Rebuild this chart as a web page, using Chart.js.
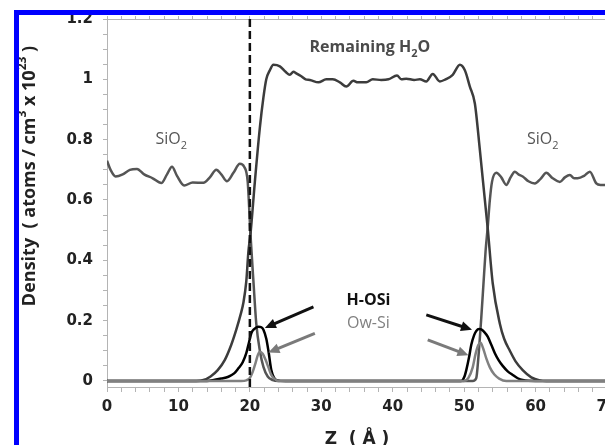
<!DOCTYPE html>
<html>
<head>
<meta charset="utf-8">
<script src="https://cdn.jsdelivr.net/npm/chart.js@4.4.1/dist/chart.umd.min.js"></script>
<style>
  html, body { margin: 0; padding: 0; background: #fff; overflow: hidden; }
  body { width: 605px; height: 445px; position: relative; }
  #wrap { position: absolute; left: 0; top: 0; width: 640px; height: 460px; }
  #frame { position: absolute; left: 14px; top: 10px; width: 700px; height: 500px;
           border-left: 5px solid #0000ff; border-top: 5px solid #0000ff; pointer-events: none; }
</style>
</head>
<body>
<div id="wrap"><canvas id="densityChart" width="640" height="460"></canvas></div>
<div id="frame"></div>
<script>
// SiO2 slab density (both walls)
const sio2Z = [0, 0.5, 1.2, 2.2, 3.2, 4.2, 5.2, 6.4, 7.6, 8.4, 9.1, 9.8, 10.8, 12.0, 13.5, 14.4, 15.3, 16.0, 16.8, 17.7, 18.6, 19.2, 19.7, 20.1, 20.5, 20.9, 21.4, 21.9, 22.5, 23.2, 24,
               50, 51.2, 51.7, 52.0, 52.4, 52.7, 53.0, 53.3, 53.6, 53.9, 54.5, 55.2, 55.9, 56.5, 57.1, 57.6, 58.2, 59.0, 59.9, 60.7, 61.5, 62.4, 63.4, 64.1, 64.8, 65.4, 65.9, 66.8, 67.6, 68.5, 69.1, 70];
const sio2 = [0.73, 0.70, 0.678, 0.685, 0.70, 0.703, 0.685, 0.672, 0.656, 0.685, 0.71, 0.68, 0.648, 0.658, 0.657, 0.675, 0.70, 0.685, 0.662, 0.69, 0.72, 0.71, 0.66, 0.48, 0.33, 0.19, 0.10, 0.047, 0.015, 0.003, 0,
              0, 0, 0.01, 0.08, 0.21, 0.32, 0.43, 0.51, 0.60, 0.66, 0.69, 0.675, 0.65, 0.675, 0.694, 0.685, 0.678, 0.662, 0.655, 0.67, 0.69, 0.672, 0.66, 0.675, 0.683, 0.672, 0.672, 0.68, 0.694, 0.655, 0.65, 0.65];

// remaining water
const waterZ = [0, 10, 12.5, 13.5, 14.5, 15.5, 16.5, 17.4, 18.1, 18.7, 19.1, 19.5, 19.8, 20.1, 20.7, 21.4, 21.9, 22.3, 22.8, 23.3, 24.2, 25.0, 25.6, 26.1, 26.5, 27.2, 27.8, 28.4, 29.6, 30.7, 31.6, 32.6, 33.5, 34.5, 35.1, 36.3, 37.2, 38.4, 39.4, 40.6, 41.2, 41.9, 43.0, 43.8, 44.7, 45.6, 46.6, 47.4, 48.4, 49.4, 50.1, 50.8, 51.5, 52.2, 52.9, 53.3, 54.0, 55.0, 55.6, 56.4, 57.2, 58.2, 59.4, 60.6, 61.5, 70];
const water = [0, 0, 0, 0.003, 0.015, 0.036, 0.07, 0.12, 0.17, 0.22, 0.26, 0.33, 0.43, 0.49, 0.66, 0.84, 0.94, 1.0, 1.03, 1.048, 1.043, 1.025, 1.015, 1.025, 1.02, 1.01, 1.0, 0.998, 0.99, 1.0, 1.0, 0.99, 0.976, 0.995, 0.99, 0.99, 1.0, 0.998, 1.0, 1.013, 1.0, 1.002, 0.998, 1.0, 0.993, 1.018, 0.993, 1.0, 1.015, 1.048, 1.03, 0.976, 0.92, 0.766, 0.60, 0.506, 0.324, 0.19, 0.14, 0.10, 0.065, 0.036, 0.012, 0.002, 0, 0];

// H-OSi
const hosiZ = [0, 14, 15.1, 16.0, 17.0, 17.8, 18.4, 19.0, 19.5, 19.9, 20.2, 20.6, 21.2, 21.6, 21.9, 22.3, 22.6, 23.0, 23.4, 23.8, 25,
               48, 49.6, 50.0, 50.3, 50.7, 51.0, 51.4, 51.7, 52.1, 52.4, 52.8, 53.3, 53.8, 54.3, 54.8, 55.4, 56.1, 56.8, 57.5, 58.2, 60, 70];
const hosi = [0, 0, 0.004, 0.008, 0.014, 0.025, 0.042, 0.062, 0.092, 0.13, 0.158, 0.172, 0.18, 0.178, 0.17, 0.14, 0.10, 0.036, 0.01, 0.002, 0,
              0, 0, 0.012, 0.036, 0.08, 0.12, 0.152, 0.166, 0.172, 0.171, 0.163, 0.147, 0.12, 0.092, 0.07, 0.05, 0.032, 0.02, 0.009, 0.003, 0, 0];

// Ow-Si
const owsiZ = [0, 18.8, 19.5, 20.0, 20.4, 20.8, 21.1, 21.4, 21.8, 22.2, 22.6, 23.0, 23.4, 24,
               50.0, 50.6, 51.2, 51.6, 52.0, 52.3, 52.7, 53.1, 53.6, 54.2, 54.9, 55.9, 70];
const owsi = [0, 0, 0.002, 0.01, 0.03, 0.06, 0.085, 0.097, 0.09, 0.07, 0.045, 0.02, 0.008, 0,
              0, 0.01, 0.045, 0.09, 0.12, 0.127, 0.105, 0.075, 0.045, 0.022, 0.008, 0, 0];

const xMajorTicks = [0, 10, 20, 30, 40, 50, 60, 70];
const xTickLabels = ['0', '10', '20', '30', '40', '50', '60', '70'];
const yMajorTicks = [0, 0.2, 0.4, 0.6, 0.8, 1, 1.2];
const yTickLabels = ['0', '0.2', '0.4', '0.6', '0.8', '1', '1.2'];
const interfaceZ = 20;

// minor tick positions
const xMinor = [];
for (let i = 0; i <= 35; i++) xMinor.push(i * 2);
const yMinor = [];
for (let i = 0; i <= 24; i++) yMinor.push(+(i * 0.05).toFixed(2));

const pts = (zs, vs) => zs.map((z, i) => ({ x: z, y: vs[i] }));

// text labels and arrows, placed in data units
const notes = [
  { pre: 'Remaining H', sub: '2', post: 'O', z: 36.8, y: 1.105, size: 16, weight: 'bold', color: '#4a4a4a' },
  { pre: 'SiO', sub: '2', post: '', z: 9.0, y: 0.80, size: 16, weight: 'normal', color: '#555' },
  { pre: 'SiO', sub: '2', post: '', z: 61.0, y: 0.80, size: 16, weight: 'normal', color: '#555' },
  { pre: 'H-OSi', sub: '', post: '', z: 36.6, y: 0.268, size: 16, weight: 'bold', color: '#111' },
  { pre: 'Ow-Si', sub: '', post: '', z: 36.6, y: 0.19, size: 16, weight: 'normal', color: '#808080' }
];
const arrows = [
  { from: [28.9, 0.246], to: [22.1, 0.176], color: '#111' },
  { from: [29.1, 0.158], to: [22.6, 0.094], color: '#7a7a7a' },
  { from: [44.7, 0.219], to: [51.1, 0.17], color: '#111' },
  { from: [44.9, 0.136], to: [50.6, 0.085], color: '#7a7a7a' }
];

function drawParts(ctx, parts, size, weight, color) {
  // parts: [text, shift] ; shift 1 = superscript, -1 = subscript
  const family = '"Open Sans", sans-serif';
  let total = 0;
  parts.forEach(p => {
    ctx.font = weight + ' ' + (p[1] ? Math.round(size * 0.68) : size) + 'px ' + family;
    total += ctx.measureText(p[0]).width;
  });
  let x = -total / 2;
  ctx.fillStyle = color;
  ctx.textAlign = 'left';
  ctx.textBaseline = 'middle';
  parts.forEach(p => {
    ctx.font = weight + ' ' + (p[1] ? Math.round(size * 0.68) : size) + 'px ' + family;
    const dy = p[1] === 1 ? -size * 0.42 : (p[1] === -1 ? size * 0.38 : 0);
    ctx.fillText(p[0], x, dy);
    x += ctx.measureText(p[0]).width;
  });
}

const decorPlugin = {
  id: 'decor',
  afterDatasetsDraw(chart) {
    const { ctx, chartArea, scales: { x, y } } = chart;
    ctx.save();

    // interface marker
    const xi = x.getPixelForValue(interfaceZ);
    ctx.strokeStyle = '#111';
    ctx.lineWidth = 2.5;
    ctx.setLineDash([8, 4]);
    ctx.beginPath();
    ctx.moveTo(xi, chartArea.top);
    ctx.lineTo(xi, chartArea.bottom);
    ctx.stroke();
    ctx.setLineDash([]);

    // arrows
    arrows.forEach(a => {
      const x0 = x.getPixelForValue(a.from[0]), y0 = y.getPixelForValue(a.from[1]);
      const x1 = x.getPixelForValue(a.to[0]), y1 = y.getPixelForValue(a.to[1]);
      const ang = Math.atan2(y1 - y0, x1 - x0);
      const len = 11, half = 5;
      ctx.strokeStyle = a.color;
      ctx.fillStyle = a.color;
      ctx.lineWidth = 3;
      ctx.beginPath();
      ctx.moveTo(x0, y0);
      ctx.lineTo(x1 - Math.cos(ang) * len * 0.8, y1 - Math.sin(ang) * len * 0.8);
      ctx.stroke();
      ctx.beginPath();
      ctx.moveTo(x1, y1);
      ctx.lineTo(x1 - Math.cos(ang) * len + Math.sin(ang) * half, y1 - Math.sin(ang) * len - Math.cos(ang) * half);
      ctx.lineTo(x1 - Math.cos(ang) * len - Math.sin(ang) * half, y1 - Math.sin(ang) * len + Math.cos(ang) * half);
      ctx.closePath();
      ctx.fill();
    });

    // labels
    notes.forEach(n => {
      ctx.save();
      ctx.translate(x.getPixelForValue(n.z), y.getPixelForValue(n.y));
      const parts = [[n.pre, 0]];
      if (n.sub) parts.push([n.sub, -1]);
      if (n.post) parts.push([n.post, 0]);
      drawParts(ctx, parts, n.size, n.weight, n.color);
      ctx.restore();
    });

    // y axis title with superscripts
    ctx.save();
    ctx.translate(30, 176);
    ctx.rotate(-Math.PI / 2);
    drawParts(ctx, [['Density  ( atoms / cm', 0], ['3', 1], [' x 10', 0], ['23', 1], [' )', 0]], 18, 'bold', '#222');
    ctx.restore();

    ctx.restore();
  }
};

const tickFont = { family: '"DejaVu Sans", sans-serif', size: 15, weight: 'bold' };
const axisGrey = '#b4b4b4';

new Chart(document.getElementById('densityChart'), {
  type: 'line',
  data: {
    datasets: [
      { label: 'Ow-Si', data: pts(owsiZ, owsi), borderColor: '#808080', borderWidth: 2.5, order: 0 },
      { label: 'H-OSi', data: pts(hosiZ, hosi), borderColor: '#000', borderWidth: 2.5, order: 1 },
      { label: 'Remaining H2O', data: pts(waterZ, water), borderColor: '#3c3c3c', borderWidth: 2.5, order: 2 },
      { label: 'SiO2', data: pts(sio2Z, sio2), borderColor: '#555555', borderWidth: 2.5, order: 3 }
    ]
  },
  options: {
    responsive: false,
    animation: false,
    layout: { padding: { left: 0, top: 19, right: 33, bottom: 0 } },
    elements: {
      point: { radius: 0 },
      line: { cubicInterpolationMode: 'monotone', fill: false }
    },
    plugins: {
      legend: { display: false },
      tooltip: { enabled: false }
    },
    scales: {
      x: {
        type: 'linear',
        min: 0,
        max: 70,
        afterBuildTicks: s => { s.ticks = xMinor.map(v => ({ value: v })); },
        afterFit: s => { s.height = 73; },
        ticks: {
          autoSkip: false,
          maxRotation: 0,
          padding: 6,
          color: '#222',
          font: tickFont,
          callback: v => { const i = xMajorTicks.indexOf(v); return i >= 0 ? xTickLabels[i] : ''; }
        },
        grid: { drawOnChartArea: false, tickLength: 5, color: axisGrey },
        border: { color: axisGrey, width: 1 },
        title: {
          display: true,
          text: 'Z  ( Å )',
          color: '#222',
          font: { family: '"DejaVu Sans", sans-serif', size: 17, weight: 'bold' },
          padding: { top: 0, bottom: 10 }
        }
      },
      x2: {
        type: 'linear',
        position: 'top',
        min: 0,
        max: 70,
        afterBuildTicks: s => { s.ticks = xMinor.map(v => ({ value: v })); },
        afterFit: s => { s.height = 0; },
        ticks: { display: false },
        grid: { drawOnChartArea: false, tickLength: 3, color: axisGrey },
        border: { color: axisGrey, width: 1 }
      },
      y: {
        type: 'linear',
        min: -0.02,
        max: 1.2,
        afterBuildTicks: s => { s.ticks = yMinor.map(v => ({ value: v })); },
        afterFit: s => { s.width = 107; },
        ticks: {
          autoSkip: false,
          padding: 10,
          color: '#222',
          font: tickFont,
          callback: v => { const i = yMajorTicks.indexOf(v); return i >= 0 ? yTickLabels[i] : ''; }
        },
        grid: { drawOnChartArea: false, tickLength: 4, color: axisGrey },
        border: { color: axisGrey, width: 1 }
      }
    }
  },
  plugins: [decorPlugin]
});
</script>
</body>
</html>
